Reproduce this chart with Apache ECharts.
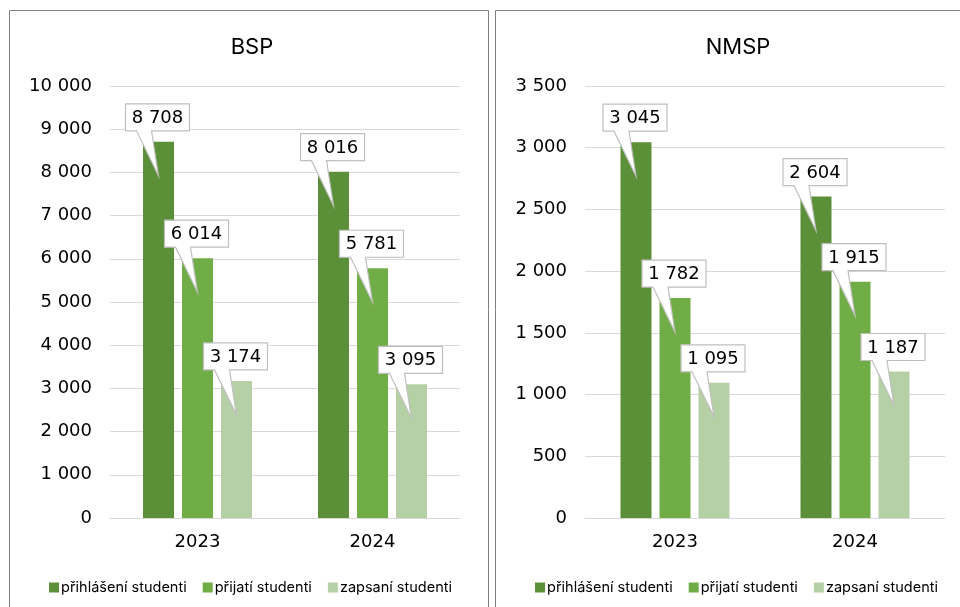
<!DOCTYPE html>
<html>
<head>
<meta charset="utf-8">
<script src="https://cdn.jsdelivr.net/npm/echarts@6/dist/echarts.min.js"></script>
<style>html,body{margin:0;padding:0;background:#fff}#c{width:960px;height:607px}</style>
</head>
<body>
<div id="c"></div>
<script>
// ---- data ----
const categories = ['2023', '2024'];
const seriesNames = ['přihlášení studenti', 'přijatí studenti', 'zapsaní studenti'];
const bspPrihlaseni = [8708, 8016];
const bspPrijati = [6014, 5781];
const bspZapsani = [3174, 3095];
const nmspPrihlaseni = [3045, 2604];
const nmspPrijati = [1782, 1915];
const nmspZapsani = [1095, 1187];
const bspTicks = [0, 1000, 2000, 3000, 4000, 5000, 6000, 7000, 8000, 9000, 10000];
const nmspTicks = [0, 500, 1000, 1500, 2000, 2500, 3000, 3500];
const titles = ['BSP', 'NMSP'];

const colors = ['#5B9038', '#70AD47', '#B5D0A5'];
const FONT = 'Inter, "Open Sans", sans-serif';
const NUMFONT = '"DejaVu Sans", Inter, sans-serif';
const BAR_W = 31, BAR_GAP = 8;

function fmt(v) { return String(v).replace(/\B(?=(\d{3})+(?!\d))/g, ' '); }

const bspSets = [bspPrihlaseni, bspPrijati, bspZapsani];
const nmspSets = [nmspPrihlaseni, nmspPrijati, nmspZapsani];

function calloutData(sets) {
  const d = [];
  sets.forEach((arr, si) => arr.forEach((v, ci) => d.push([ci, v, si])));
  return d;
}

function renderCallout(params, api) {
  const ci = api.value(0), v = api.value(1), si = api.value(2);
  const p = api.coord([ci, v]);
  const cx = p[0] + (si - 1) * (BAR_W + BAR_GAP);
  const top = p[1];
  const L = cx - 33, R = cx + 31, T = top - 38, B = top - 11;
  const tip = [cx, top + 34];
  return {
    type: 'group',
    children: [
      {
        type: 'polygon',
        shape: { points: [[L, T], [R, T], [R, B], [cx - 7, B], tip, [cx - 22, B], [L, B]] },
        style: { fill: '#fff', stroke: '#BFBFBF', lineWidth: 1.2 }
      },
      {
        type: 'text',
        style: {
          text: fmt(v), x: (L + R) / 2, y: (T + B) / 2 + 1,
          textAlign: 'center', textVerticalAlign: 'middle',
          font: '18px ' + NUMFONT, fill: '#000'
        }
      }
    ]
  };
}

function barSeries(sets, gi) {
  return sets.map((arr, si) => ({
    name: seriesNames[si], type: 'bar', xAxisIndex: gi, yAxisIndex: gi,
    data: arr, barWidth: BAR_W, barGap: (BAR_GAP / BAR_W * 100) + '%',
    itemStyle: { color: colors[si] }, z: 2
  }));
}

const grids = [
  { left: 110, right: 500, top: 86, bottom: 89 },
  { left: 585, right: 15, top: 86, bottom: 89 }
];

function yAxis(gi, ticks) {
  const interval = ticks[1] - ticks[0];
  return {
    type: 'value', gridIndex: gi, min: ticks[0], max: ticks[ticks.length - 1], interval: interval,
    axisLine: { show: false }, axisTick: { show: false },
    splitLine: { lineStyle: { color: '#D9D9D9', width: 1 } },
    axisLabel: { formatter: fmt, color: '#000', fontSize: 18, fontFamily: NUMFONT, margin: 18 }
  };
}
function xAxis(gi) {
  return {
    type: 'category', gridIndex: gi, data: categories,
    axisLine: { lineStyle: { color: '#D9D9D9' } }, axisTick: { show: false },
    axisLabel: { color: '#000', fontSize: 18, fontFamily: NUMFONT, margin: 15 }
  };
}

const legendText = { fontSize: 14.5, color: '#000', fontFamily: FONT, padding: [0, 0, 0, -3] };

const option = {
  animation: false,
  backgroundColor: '#fff',
  graphic: [
    { type: 'rect', shape: { x: 9.5, y: 10.5, width: 479, height: 640 }, style: { fill: 'none', stroke: '#7F7F7F', lineWidth: 1 }, z: -1 },
    { type: 'rect', shape: { x: 495.5, y: 10.5, width: 520, height: 640 }, style: { fill: 'none', stroke: '#7F7F7F', lineWidth: 1 }, z: -1 }
  ],
  title: [
    { text: titles[0], left: 247, top: 31, textAlign: 'center', textStyle: { fontSize: 22, fontWeight: 'normal', color: '#000', fontFamily: FONT } },
    { text: titles[1], left: 733, top: 31, textAlign: 'center', textStyle: { fontSize: 22, fontWeight: 'normal', color: '#000', fontFamily: FONT } }
  ],
  legend: [
    { data: seriesNames, left: 44, top: 575, itemWidth: 10, itemHeight: 10, itemGap: 16, icon: 'rect', textStyle: legendText },
    { data: seriesNames, left: 530, top: 575, itemWidth: 10, itemHeight: 10, itemGap: 16, icon: 'rect', textStyle: legendText }
  ],
  grid: grids,
  xAxis: [xAxis(0), xAxis(1)],
  yAxis: [yAxis(0, bspTicks), yAxis(1, nmspTicks)],
  series: [
    ...barSeries(bspSets, 0),
    ...barSeries(nmspSets, 1),
    { type: 'custom', xAxisIndex: 0, yAxisIndex: 0, data: calloutData(bspSets), renderItem: renderCallout, z: 10, silent: true, clip: false },
    { type: 'custom', xAxisIndex: 1, yAxisIndex: 1, data: calloutData(nmspSets), renderItem: renderCallout, z: 10, silent: true, clip: false }
  ]
};

echarts.init(document.getElementById('c')).setOption(option);
</script>
</body>
</html>
